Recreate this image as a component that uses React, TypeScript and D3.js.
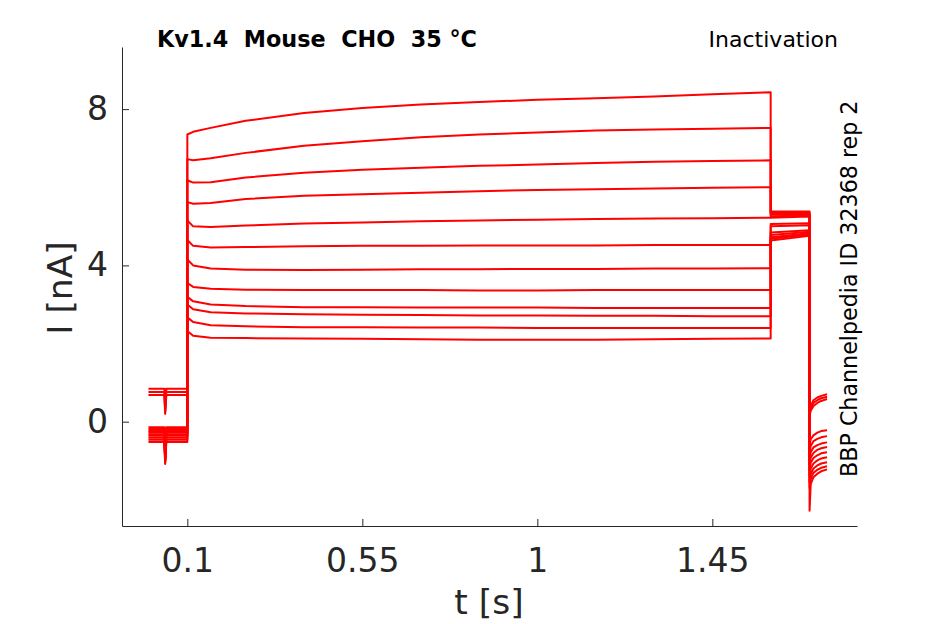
import React, { useEffect, useRef } from "react";
import * as d3 from "d3";

// protocol time points (s)
const holdTimes = [0, 0.041, 0.043, 0.046, 0.1];
const stepTimes = [0.1, 0.115, 0.16, 0.25, 0.4, 0.55, 0.7, 0.85, 1.0, 1.15, 1.3, 1.45, 1.6];
const testTimes = [1.6, 1.7];
const tailTimes = [1.7, 1.703, 1.71, 1.72, 1.73, 1.745];

// holding current before the step and the small transient dip (nA)
const holdCurrents = [0.84, 0.76, 0.68, -0.14, -0.19, -0.24, -0.28, -0.32, -0.36, -0.41, -0.46, -0.52];
const dipCurrents = [0.3, 0.25, 0.2, -0.85, -0.9, -0.92, -0.95, -0.98, -1.0, -1.02, -1.05, -1.08];

// current during the long step, one row per sweep (nA)
const stepCurrents = [
	[7.35, 7.42, 7.52, 7.7, 7.9, 8.03, 8.12, 8.18, 8.24, 8.28, 8.32, 8.38, 8.43],
	[6.72, 6.69, 6.74, 6.88, 7.06, 7.18, 7.28, 7.35, 7.4, 7.45, 7.48, 7.5, 7.52],
	[6.18, 6.12, 6.13, 6.25, 6.37, 6.45, 6.5, 6.55, 6.58, 6.62, 6.65, 6.67, 6.69],
	[5.62, 5.58, 5.6, 5.7, 5.78, 5.82, 5.86, 5.9, 5.93, 5.95, 5.97, 5.99, 6.0],
	[5.15, 5.0, 4.98, 5.02, 5.07, 5.1, 5.13, 5.15, 5.17, 5.19, 5.2, 5.21, 5.22],
	[4.65, 4.5, 4.46, 4.47, 4.49, 4.5, 4.5, 4.51, 4.51, 4.51, 4.52, 4.52, 4.52],
	[4.15, 4.0, 3.92, 3.89, 3.88, 3.89, 3.9, 3.9, 3.91, 3.91, 3.92, 3.92, 3.93],
	[3.55, 3.45, 3.4, 3.38, 3.37, 3.37, 3.37, 3.36, 3.36, 3.37, 3.37, 3.37, 3.37],
	[3.2, 3.08, 3.0, 2.96, 2.93, 2.93, 2.92, 2.92, 2.92, 2.91, 2.91, 2.91, 2.91],
	[3.0, 2.88, 2.8, 2.77, 2.75, 2.74, 2.73, 2.72, 2.72, 2.71, 2.71, 2.7, 2.7],
	[2.67, 2.55, 2.47, 2.44, 2.42, 2.42, 2.41, 2.41, 2.4, 2.4, 2.4, 2.4, 2.4],
	[2.32, 2.2, 2.15, 2.14, 2.13, 2.12, 2.11, 2.1, 2.1, 2.1, 2.11, 2.12, 2.13],
];

// test pulse after the step: start / end (nA)
const testCurrents = [
	[5.38, 5.38],
	[5.34, 5.35],
	[5.3, 5.32],
	[5.26, 5.28],
	[5.22, 5.25],
	[5.06, 5.08],
	[5.0, 5.03],
	[4.84, 4.9],
	[4.78, 4.86],
	[4.72, 4.82],
	[4.68, 4.79],
	[4.64, 4.76],
];

// tail currents after repolarisation (nA)
const tailCurrents = [
	[0.25, 0.4, 0.55, 0.62, 0.66, 0.7],
	[0.2, 0.35, 0.48, 0.55, 0.6, 0.64],
	[0.15, 0.28, 0.4, 0.48, 0.53, 0.58],
	[-0.6, -0.45, -0.35, -0.28, -0.24, -0.22],
	[-0.8, -0.62, -0.5, -0.44, -0.4, -0.37],
	[-0.95, -0.78, -0.66, -0.6, -0.56, -0.53],
	[-1.1, -0.92, -0.8, -0.72, -0.68, -0.65],
	[-1.25, -1.05, -0.93, -0.86, -0.81, -0.78],
	[-1.4, -1.2, -1.07, -0.99, -0.94, -0.91],
	[-1.55, -1.34, -1.2, -1.12, -1.07, -1.04],
	[-1.7, -1.46, -1.31, -1.23, -1.18, -1.14],
	[-2.28, -1.6, -1.42, -1.33, -1.27, -1.22],
];

const xTicks = [0.1, 0.55, 1, 1.45];
const xTickLabels = ["0.1", "0.55", "1", "1.45"];
const yTicks = [0, 4, 8];

const W = 945,
	H = 624;
const axisColor = "#262626";
const font = "'DejaVu Sans', sans-serif";

function sweep(i: number): [number, number][] {
	const hold = [holdCurrents[i], holdCurrents[i], dipCurrents[i], holdCurrents[i], holdCurrents[i]];
	const pts: [number, number][] = [];
	holdTimes.forEach((t, k) => pts.push([t, hold[k]]));
	stepTimes.forEach((t, k) => pts.push([t, stepCurrents[i][k]]));
	testTimes.forEach((t, k) => pts.push([t, testCurrents[i][k]]));
	tailTimes.forEach((t, k) => pts.push([t, tailCurrents[i][k]]));
	return pts;
}

function draw(ref: SVGSVGElement | null) {
	if (!ref) return;
	const svg = d3.select(ref);
	svg.selectAll("*").remove();

	const x = d3.scaleLinear().domain([-0.068, 1.822]).range([122, 857]);
	const y = d3.scaleLinear().domain([-2.67, 9.59]).range([526, 47]);

	// traces
	const line = d3
		.line<[number, number]>()
		.x((d) => x(d[0]))
		.y((d) => y(d[1]));
	svg.append("g")
		.selectAll("path")
		.data(stepCurrents.map((_, i) => sweep(i)))
		.join("path")
		.attr("d", line)
		.attr("fill", "none")
		.attr("stroke", "#ff0000")
		.attr("stroke-width", 2)
		.attr("stroke-linejoin", "round");

	// axes, ticks pointing inward
	const xAxis = svg
		.append("g")
		.attr("transform", "translate(0,526)")
		.call(
			d3
				.axisBottom(x)
				.tickValues(xTicks)
				.tickFormat((_, i) => xTickLabels[i])
				.tickSizeInner(-7)
				.tickSizeOuter(0)
				.tickPadding(23)
		);
	const yAxis = svg
		.append("g")
		.attr("transform", "translate(122,0)")
		.call(d3.axisLeft(y).tickValues(yTicks).tickFormat(d3.format("d")).tickSizeInner(-7).tickSizeOuter(0).tickPadding(14));
	[xAxis, yAxis].forEach((g) => {
		g.select(".domain").attr("stroke", axisColor);
		g.selectAll(".tick line").attr("stroke", axisColor);
		g.selectAll(".tick text").attr("fill", axisColor).style("font-family", font).style("font-size", "33px");
	});

	// axis labels
	svg.append("text")
		.attr("x", 489)
		.attr("y", 614)
		.attr("text-anchor", "middle")
		.attr("fill", axisColor)
		.style("font-family", font)
		.style("font-size", "34.5px")
		.text("t [s]");
	svg.append("text")
		.attr("transform", "translate(72,288) rotate(-90)")
		.attr("text-anchor", "middle")
		.attr("fill", axisColor)
		.style("font-family", font)
		.style("font-size", "34.5px")
		.text("I [nA]");

	// annotations
	svg.append("text")
		.attr("x", 157)
		.attr("y", 47)
		.attr("fill", "#000")
		.style("font-family", font)
		.style("font-size", "22.3px")
		.style("font-weight", "bold")
		.style("white-space", "pre")
		.text("Kv1.4  Mouse  CHO  35 °C");
	svg.append("text")
		.attr("x", 838)
		.attr("y", 47)
		.attr("text-anchor", "end")
		.attr("fill", "#000")
		.style("font-family", font)
		.style("font-size", "22px")
		.text("Inactivation");
	svg.append("text")
		.attr("transform", "translate(857,477) rotate(-90)")
		.attr("fill", "#000")
		.style("font-family", font)
		.style("font-size", "22.2px")
		.text("BBP Channelpedia ID 32368 rep 2");
}

export default function App() {
	const ref = useRef<SVGSVGElement>(null);
	useEffect(() => {
		draw(ref.current);
	}, []);
	return (
		<svg
			ref={ref}
			width={W}
			height={H}
			style={{ position: "absolute", left: 0, top: 0, background: "#fff" }}
		/>
	);
}
